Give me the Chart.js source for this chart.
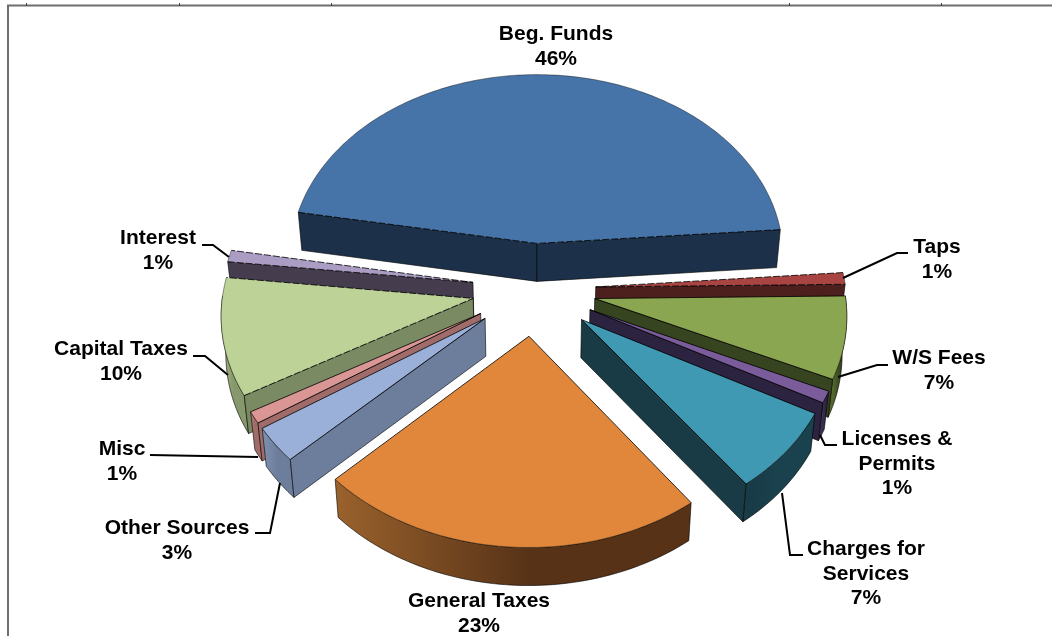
<!DOCTYPE html>
<html>
<head>
<meta charset="utf-8">
<title>Revenue sources</title>
<style>
  html, body { margin: 0; padding: 0; background: #fff; }
  canvas { display: block; }
</style>
<script src="https://cdn.jsdelivr.net/npm/chart.js@4/dist/chart.umd.min.js"></script>
</head>
<body>
<canvas id="pie" width="1052" height="636"></canvas>
<script>
// Revenue share per source, clockwise from the back-left corner of the pie.
const categories = ['Beg. Funds', 'Taps', 'W/S Fees', 'Licenses & Permits', 'Charges for Services',
                    'General Taxes', 'Other Sources', 'Misc', 'Capital Taxes', 'Interest'];
const values = [46, 1, 7, 1, 7, 23, 3, 1, 10, 1];

const topColors  = ['#4674a8', '#a84543', '#8ba650', '#7a5c9a', '#4099b2',
                    '#e0873b', '#9bb0d8', '#d99694', '#bdd297', '#ab9cc3'];
const cutColors  = ['#1c3149', '#4d1f1d', '#36441f', '#2c2340', '#183b46',
                    '#5a3318', '#6d7e9c', '#a06c6a', '#7a8a62', '#453c4e'];
const wallLeft   = ['#1c3149', '#4d1f1d', '#55692f', '#3b2f52', '#183b46',
                    '#9a622c', '#7f91b3', '#b07a78', '#a8bb86', '#453c4e'];
const wallRight  = ['#20385a', '#4d1f1d', '#36441f', '#2c2340', '#1a424e',
                    '#573217', '#6d7e9c', '#a06c6a', '#87986c', '#453c4e'];
// Slices whose radial edges carry the broken outline.
const brokenEdges = [true, true, false, false, false, false, false, false, true, true];

// Back-to-front order so nearer slices overlap farther ones.
const paintOrder = [0, 9, 1, 8, 2, 7, 3, 6, 4, 5];

// Label text blocks: lines, centre x, baseline of the first line.
const labelLines = [['Beg. Funds'], ['Taps'], ['W/S Fees'], ['Licenses &', 'Permits'], ['Charges for', 'Services'],
                    ['General Taxes'], ['Other Sources'], ['Misc'], ['Capital Taxes'], ['Interest']];
const labelX = [556, 937, 939, 897, 866, 479, 177, 122, 121, 158];
const labelY = [40, 253, 364, 445, 555, 607, 534, 455, 355, 244];

// Leader polylines from label to slice.
const leaders = [
  null,
  [[908, 253], [897, 253], [843, 278]],
  [[888, 365], [877, 365], [838, 377]],
  [[837, 445], [825, 445], [820, 435]],
  [[803, 555], [790, 555], [782, 493]],
  null,
  [[255, 533], [270, 533], [280, 483]],
  [[150, 455], [258, 457]],
  [[193, 356], [205, 356], [228, 375]],
  [[202, 245], [213, 245], [229, 257]]
];

// Perspective of the pie plane: u to the right, v toward the viewer, radius = 1.
const view = { x0: 534, y0: 289, sx: 250, sy: 188, persp: 0.075, depth: 38, taper: 0.985 };

function project(u, v) {
  const s = 1 / (1 - view.persp * v);
  return [view.x0 + view.sx * u * s, view.y0 + view.sy * v * s];
}
function drop(p) {
  return [view.x0 + (p[0] - view.x0) * view.taper, p[1] + view.depth];
}
function tracePolygon(ctx, pts) {
  ctx.beginPath();
  pts.forEach((p, i) => (i ? ctx.lineTo(p[0], p[1]) : ctx.moveTo(p[0], p[1])));
  ctx.closePath();
}
function cross(ax, ay, bx, by) { return ax * by - ay * bx; }

function drawSlice(ctx, arc, idx) {
  const { startAngle, endAngle, outerRadius } = arc.getProps(['startAngle', 'endAngle', 'outerRadius'], true);
  const mid = (startAngle + endAngle) / 2;
  const burst = arc.options.offset / outerRadius;
  const cu = Math.cos(mid) * burst, cv = Math.sin(mid) * burst;

  const apex = project(cu, cv);
  const rim = [], rimFront = [];
  const steps = Math.max(4, Math.ceil((endAngle - startAngle) / 0.02));
  for (let k = 0; k <= steps; k++) {
    const a = startAngle + (endAngle - startAngle) * k / steps;
    const p = project(cu + Math.cos(a), cv + Math.sin(a));
    rim.push(p);
    if (Math.sin(a) > -0.02) rimFront.push(p);
  }
  const first = rim[0], last = rim[rim.length - 1], centre = rim[Math.floor(rim.length / 2)];

  ctx.lineJoin = 'round';
  ctx.lineWidth = 1;
  ctx.setLineDash([]);
  ctx.strokeStyle = 'rgba(0,0,0,0.6)';

  // Curved outer wall, only where it faces the viewer.
  if (rimFront.length > 1) {
    const xs = rimFront.map(p => p[0]);
    const grad = ctx.createLinearGradient(Math.min(...xs), 0, Math.max(...xs), 0);
    grad.addColorStop(0, wallLeft[idx]);
    grad.addColorStop(0.55, wallRight[idx]);
    grad.addColorStop(1, wallRight[idx]);
    tracePolygon(ctx, rimFront.concat(rimFront.map(drop).reverse()));
    ctx.fillStyle = grad;
    ctx.fill();
    ctx.stroke();
  }

  // Radial cut faces that turn toward the viewer.
  [first, last].forEach(edge => {
    const ex = edge[0] - apex[0], ey = edge[1] - apex[1];
    const inner = cross(ex, ey, centre[0] - apex[0], centre[1] - apex[1]);
    const down = cross(ex, ey, 0, 1);
    if (inner * down >= 0) return;
    tracePolygon(ctx, [apex, edge, drop(edge), drop(apex)]);
    ctx.fillStyle = cutColors[idx];
    ctx.fill();
    ctx.stroke();
  });

  // Top face with a faint rim line and firmer radial edges.
  tracePolygon(ctx, [apex].concat(rim));
  ctx.fillStyle = topColors[idx];
  ctx.fill();
  ctx.strokeStyle = 'rgba(0,0,0,0.4)';
  ctx.beginPath();
  rim.forEach((p, i) => (i ? ctx.lineTo(p[0], p[1]) : ctx.moveTo(p[0], p[1])));
  ctx.stroke();
  ctx.strokeStyle = 'rgba(0,0,0,0.8)';
  if (brokenEdges[idx]) ctx.setLineDash([7, 2]);
  ctx.beginPath();
  ctx.moveTo(first[0], first[1]); ctx.lineTo(apex[0], apex[1]); ctx.lineTo(last[0], last[1]);
  ctx.stroke();
  ctx.setLineDash([]);
}

const exploded3d = {
  id: 'exploded3d',
  beforeDatasetDraw(chart) {
    const ctx = chart.ctx;
    const arcs = chart.getDatasetMeta(0).data;
    ctx.save();
    paintOrder.forEach(i => drawSlice(ctx, arcs[i], i));
    ctx.restore();
    return false;
  }
};

const annotations = {
  id: 'annotations',
  afterDraw(chart) {
    const ctx = chart.ctx;
    ctx.save();

    // Sheet frame with its small column ticks.
    ctx.strokeStyle = '#6e6e6e';
    ctx.lineWidth = 2;
    ctx.beginPath();
    ctx.moveTo(1052, 5.5); ctx.lineTo(8, 5.5); ctx.lineTo(8, 636);
    ctx.stroke();
    ctx.lineWidth = 1;
    ctx.strokeStyle = '#444';
    [26, 179, 331, 789, 941].forEach(x => {
      ctx.beginPath(); ctx.moveTo(x + 0.5, 3); ctx.lineTo(x + 0.5, 6); ctx.stroke();
    });

    // Leader lines.
    ctx.strokeStyle = '#000';
    ctx.lineWidth = 2;
    ctx.lineJoin = 'miter';
    leaders.forEach(line => {
      if (!line) return;
      ctx.beginPath();
      line.forEach((p, i) => (i ? ctx.lineTo(p[0], p[1]) : ctx.moveTo(p[0], p[1])));
      ctx.stroke();
    });

    // Category names with the share underneath.
    ctx.fillStyle = '#000';
    ctx.font = 'bold 21px "Liberation Sans", Arial, sans-serif';
    ctx.textAlign = 'center';
    ctx.textBaseline = 'alphabetic';
    categories.forEach((name, i) => {
      const lines = labelLines[i].concat([values[i] + '%']);
      lines.forEach((t, n) => ctx.fillText(t, labelX[i], labelY[i] + n * 24.5));
    });
    ctx.restore();
  }
};

new Chart(document.getElementById('pie'), {
  type: 'pie',
  data: {
    labels: categories,
    datasets: [{ data: values, backgroundColor: topColors, borderWidth: 0, offset: 70 }]
  },
  options: {
    responsive: false,
    animation: false,
    rotation: -80,
    layout: { padding: 0 },
    plugins: { legend: { display: false }, tooltip: { enabled: false } }
  },
  plugins: [exploded3d, annotations]
});
</script>
</body>
</html>
